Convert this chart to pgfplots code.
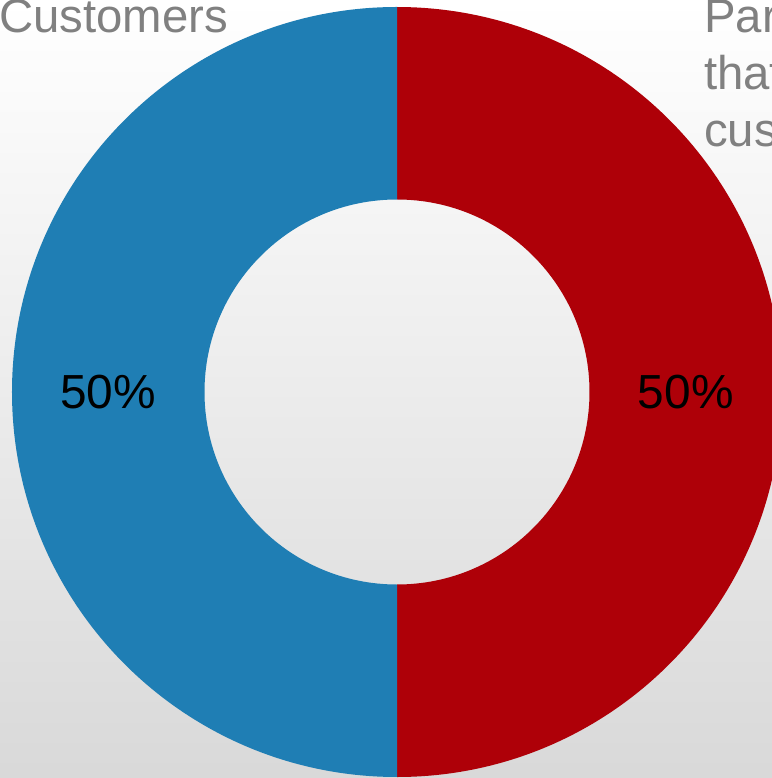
\documentclass[border=0pt]{standalone}
\usepackage{fontspec}
\setmainfont{Liberation Sans}
\usepackage{pgfplots}
\usepackage{pgfplotstable}
\pgfplotsset{compat=1.18}

\definecolor{partred}{HTML}{AE0008}
\definecolor{custblue}{HTML}{1F7EB4}
\definecolor{labelgray}{HTML}{808080}

% share of each group (percent)
\pgfplotstableread{
group     share
partners  50
customers 50
}\sharetable

\begin{document}
\begin{tikzpicture}
\useasboundingbox (0,0) rectangle (772bp,778bp);
\clip (0,0) rectangle (772bp,778bp);
\shade[top color=white, bottom color=gray!30] (0,0) rectangle (772bp,778bp);

\pgfplotstablegetelem{0}{share}\of\sharetable \let\shareA\pgfplotsretval
\pgfplotstablegetelem{1}{share}\of\sharetable \let\shareB\pgfplotsretval
\pgfmathsetmacro\total{\shareA+\shareB}
\pgfmathsetmacro\fracA{\shareA/\total}
\pgfmathsetmacro\fracB{\shareB/\total}
\pgfmathsetmacro\angS{90}
\pgfmathsetmacro\angM{90-360*\fracA}
\pgfmathsetmacro\angE{\angM-360*\fracB}
\pgfmathsetmacro\midA{(\angS+\angM)/2}
\pgfmathsetmacro\midB{(\angM+\angE)/2}
\pgfmathtruncatemacro\pctA{round(100*\fracA)}
\pgfmathtruncatemacro\pctB{round(100*\fracB)}

\def\cx{397}\def\cy{386}\def\ro{385}\def\ri{192.5}

\begin{axis}[
  x=1bp, y=1bp,
  xmin=0, xmax=772, ymin=0, ymax=778,
  scale only axis,
  hide axis,
  at={(0,0)}, anchor=south west,
]
% partners (red)
\fill[partred] (axis cs:{\cx+\ro*cos(\angS)},{\cy+\ro*sin(\angS)})
  arc[start angle=\angS, end angle=\angM, radius=\ro bp]
  -- (axis cs:{\cx+\ri*cos(\angM)},{\cy+\ri*sin(\angM)})
  arc[start angle=\angM, end angle=\angS, radius=\ri bp] -- cycle;
% customers (blue)
\fill[custblue] (axis cs:{\cx+\ro*cos(\angM)},{\cy+\ro*sin(\angM)})
  arc[start angle=\angM, end angle=\angE, radius=\ro bp]
  -- (axis cs:{\cx+\ri*cos(\angE)},{\cy+\ri*sin(\angE)})
  arc[start angle=\angE, end angle=\angM, radius=\ri bp] -- cycle;

\node[font=\fontsize{48}{57}\selectfont, inner sep=0pt]
  at (axis cs:{\cx+288.75*cos(\midA)},{\cy+288.75*sin(\midA)}) {\pctA\%};
\node[font=\fontsize{48}{57}\selectfont, inner sep=0pt]
  at (axis cs:{\cx+288.75*cos(\midB)},{\cy+288.75*sin(\midB)}) {\pctB\%};

\node[font=\fontsize{47.5}{57}\selectfont, text=labelgray, inner sep=0pt, anchor=base west]
  at (axis cs:-1,745) {Customers};
\node[font=\fontsize{47.5}{57}\selectfont, text=labelgray, inner sep=0pt, anchor=base west]
  at (axis cs:704,745) {Partners};
\node[font=\fontsize{47.5}{57}\selectfont, text=labelgray, inner sep=0pt, anchor=base west]
  at (axis cs:704,688) {that serve};
\node[font=\fontsize{47.5}{57}\selectfont, text=labelgray, inner sep=0pt, anchor=base west]
  at (axis cs:704,631) {customers};
\end{axis}
\end{tikzpicture}
\end{document}
